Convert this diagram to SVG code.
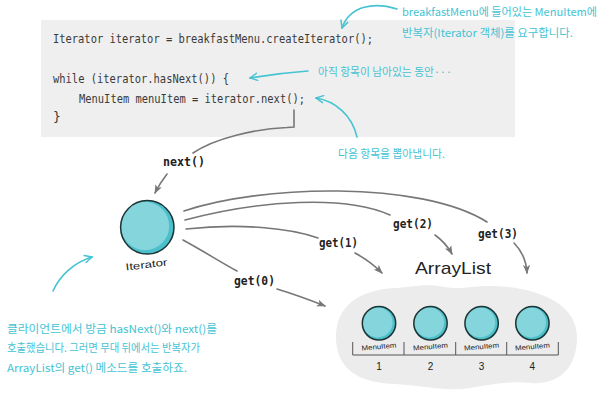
<svg xmlns="http://www.w3.org/2000/svg" width="606" height="406" viewBox="0 0 606 406">
<style>
.code{font-family:"DejaVu Sans Mono","Liberation Mono",monospace;font-size:13px;fill:#3a3a3a}
.lbl{font-family:"DejaVu Sans Mono","Liberation Mono",monospace;font-size:12px;font-weight:bold;fill:#222}
.hand{font-family:"Liberation Sans","Noto Sans",sans-serif;fill:#222}
.note{font-family:"Noto Sans CJK KR","Noto Sans",sans-serif;font-size:11px;fill:#45c3d3}
.conn{fill:none;stroke:#777;stroke-width:1.6;stroke-linecap:round}
.cy{fill:none;stroke:#45c3d3;stroke-width:1.6;stroke-linecap:round}
.dark{fill:#4bbfca}
.light{fill:#84d5dc}
.ring{fill:none;stroke:#1c3434;stroke-width:1.5}
.brk{fill:none;stroke:#555;stroke-width:1}
</style>
<defs>
<marker id="ah" viewBox="0 0 10 10" refX="9" refY="5" markerWidth="9" markerHeight="9" markerUnits="userSpaceOnUse" orient="auto">
<path d="M0,1 L10,5 L0,9 L2.5,5 Z" fill="#777"/>
</marker>
<marker id="ahc" viewBox="0 0 10 10" refX="9" refY="5" markerWidth="9" markerHeight="9" markerUnits="userSpaceOnUse" orient="auto">
<path d="M1,1 L9,5 L1,9" fill="none" stroke="#45c3d3" stroke-width="1.6" stroke-linecap="round"/>
</marker>
</defs>
<rect width="606" height="406" fill="#ffffff"/>

<g id="code-box">
<rect x="41" y="20" width="474" height="117" fill="#efefef"/>
<text class="code" x="53" y="43" textLength="320" lengthAdjust="spacingAndGlyphs">Iterator iterator = breakfastMenu.createIterator();</text>
<text class="code" x="53" y="83" textLength="176" lengthAdjust="spacingAndGlyphs">while (iterator.hasNext()) {</text>
<text class="code" x="79" y="103" textLength="226" lengthAdjust="spacingAndGlyphs">MenuItem menuItem = iterator.next();</text>
<text class="code" x="53" y="121">}</text>
</g>

<g id="iterator">
<circle class="dark" cx="147.3" cy="227.3" r="26.7"/>
<circle class="light" cx="145" cy="226" r="24.2"/>
<circle class="ring" cx="147.3" cy="227.3" r="26.7"/>
<text class="hand" x="146.5" y="268" font-size="10" text-anchor="middle" textLength="42" lengthAdjust="spacingAndGlyphs" transform="rotate(-7 146.5 265)">Iterator</text>
</g>

<g id="arraylist">
<text class="hand" x="415" y="274" font-size="17" textLength="76" lengthAdjust="spacingAndGlyphs">ArrayList</text>
<path d="M336,337 C336,305 360,290 395,288 C415,287 425,283 445,287 C460,290 470,286 490,286 C530,286 577,300 577,337 C577,372 555,385 530,383 C510,381 495,384 470,388 C445,392 420,385 395,384 C360,383 336,370 336,337 Z" fill="#ececec"/>
<g id="menuitem-1">
<circle class="dark" cx="379" cy="323.3" r="16.7"/>
<circle class="light" cx="377.6" cy="322.4" r="15"/>
<circle class="ring" cx="379" cy="323.3" r="16.7"/>
<text class="hand" x="379" y="349" font-size="7" text-anchor="middle" textLength="35" lengthAdjust="spacingAndGlyphs" transform="rotate(-5 379 347)">MenuItem</text>
<text class="hand" x="379" y="370" font-size="10" text-anchor="middle">1</text>
</g>
<g id="menuitem-2">
<circle class="dark" cx="430.5" cy="323.3" r="16.7"/>
<circle class="light" cx="429.1" cy="322.4" r="15"/>
<circle class="ring" cx="430.5" cy="323.3" r="16.7"/>
<text class="hand" x="430.5" y="349" font-size="7" text-anchor="middle" textLength="35" lengthAdjust="spacingAndGlyphs" transform="rotate(-5 430.5 347)">MenuItem</text>
<text class="hand" x="430.5" y="370" font-size="10" text-anchor="middle">2</text>
</g>
<g id="menuitem-3">
<circle class="dark" cx="481.6" cy="323.3" r="16.7"/>
<circle class="light" cx="480.2" cy="322.4" r="15"/>
<circle class="ring" cx="481.6" cy="323.3" r="16.7"/>
<text class="hand" x="481.6" y="349" font-size="7" text-anchor="middle" textLength="35" lengthAdjust="spacingAndGlyphs" transform="rotate(-5 481.6 347)">MenuItem</text>
<text class="hand" x="481.6" y="370" font-size="10" text-anchor="middle">3</text>
</g>
<g id="menuitem-4">
<circle class="dark" cx="532.4" cy="323.3" r="16.7"/>
<circle class="light" cx="531" cy="322.4" r="15"/>
<circle class="ring" cx="532.4" cy="323.3" r="16.7"/>
<text class="hand" x="532.4" y="349" font-size="7" text-anchor="middle" textLength="35" lengthAdjust="spacingAndGlyphs" transform="rotate(-5 532.4 347)">MenuItem</text>
<text class="hand" x="532.4" y="370" font-size="10" text-anchor="middle">4</text>
</g>
<path class="brk" d="M352.7,342 V355 H558.3 V342 M404,342 V355 M455.7,342 V355 M506.7,342 V355"/>
</g>

<g id="connectors">
<path class="conn" d="M294,110 V127 L287,127.5 C255,129 215,138 193,153"/>
<path class="conn" d="M167,174 Q160,183 155,193" marker-end="url(#ah)"/>
<path class="conn" d="M184,211 C260,185 420,180 487,222"/>
<path class="conn" d="M185,220 C260,200 345,195 390,215"/>
<path class="conn" d="M186,229 C240,223 290,228 318,238"/>
<path class="conn" d="M183,240 C205,252 222,263 237,271"/>
<path class="conn" d="M277,289 Q300,296 325,306" marker-end="url(#ah)"/>
<path class="conn" d="M355,253 Q370,261 382,273" marker-end="url(#ah)"/>
<path class="conn" d="M435,235 Q446,243 452,254" marker-end="url(#ah)"/>
<path class="conn" d="M514,243 Q526,255 527,273" marker-end="url(#ah)"/>
<text class="lbl" x="163" y="166" textLength="42" lengthAdjust="spacingAndGlyphs">next()</text>
<text class="lbl" x="234" y="285" textLength="41" lengthAdjust="spacingAndGlyphs">get(0)</text>
<text class="lbl" x="319" y="247" textLength="39" lengthAdjust="spacingAndGlyphs">get(1)</text>
<text class="lbl" x="393" y="227.5" textLength="40" lengthAdjust="spacingAndGlyphs">get(2)</text>
<text class="lbl" x="478" y="237.5" textLength="40" lengthAdjust="spacingAndGlyphs">get(3)</text>
</g>

<g id="annotations">
<path class="cy" d="M397,9 C375,2 350,5 342,28" marker-end="url(#ahc)"/>
<path class="cy" d="M308,71 Q280,73 250,78" marker-end="url(#ahc)"/>
<path class="cy" d="M357,137 C352,115 335,101 316,98" marker-end="url(#ahc)"/>
<path class="cy" d="M53,291 C60,275 75,262 92,257" marker-end="url(#ahc)"/>
<text class="note" x="402" y="16" textLength="195" lengthAdjust="spacingAndGlyphs">breakfastMenu에 들어있는 MenuItem에</text>
<text class="note" x="402" y="37" textLength="171" lengthAdjust="spacingAndGlyphs">반복자(Iterator 객체)를 요구합니다.</text>
<text class="note" x="318" y="76" textLength="134" lengthAdjust="spacingAndGlyphs">아직 항목이 남아있는 동안···</text>
<text class="note" x="338" y="158" textLength="107" lengthAdjust="spacingAndGlyphs">다음 항목을 뽑아냅니다.</text>
<text class="note" x="7" y="333" textLength="210" lengthAdjust="spacingAndGlyphs">클라이언트에서 방금 hasNext()와 next()를</text>
<text class="note" x="7" y="352" textLength="193" lengthAdjust="spacingAndGlyphs">호출했습니다. 그러면 무대 뒤에서는 반복자가</text>
<text class="note" x="7" y="372" textLength="180" lengthAdjust="spacingAndGlyphs">ArrayList의 get() 메소드를 호출하죠.</text>
</g>
</svg>
